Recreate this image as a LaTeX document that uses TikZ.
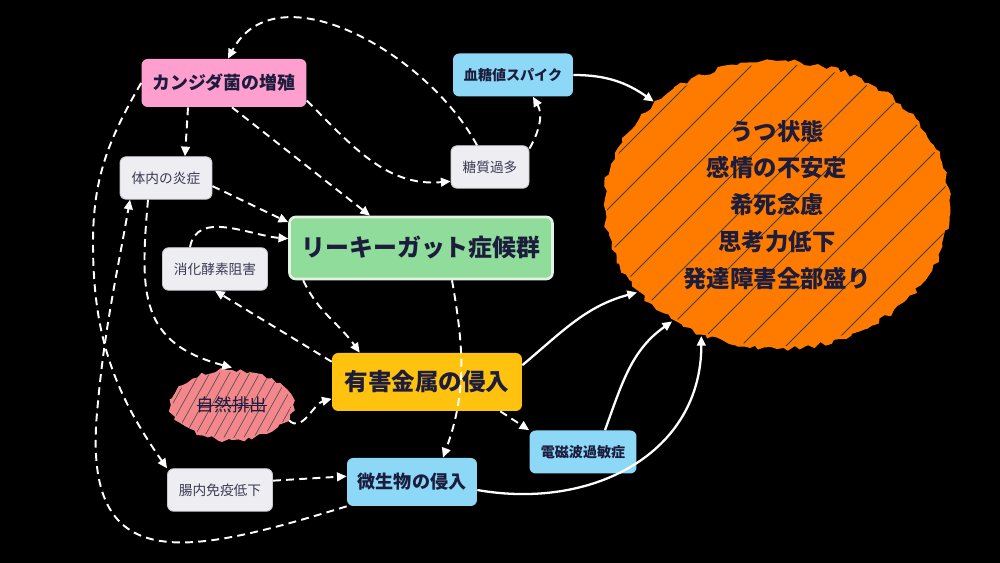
\documentclass[tikz,border=0pt]{standalone}
\usepackage{fontspec}
\setmainfont{Noto Sans CJK JP}
\usetikzlibrary{arrows.meta,shapes.geometric,decorations.pathmorphing}
\definecolor{ink}{HTML}{1C1C3C}
\definecolor{inkgray}{HTML}{3A3A55}
\definecolor{candpink}{HTML}{FF9FD0}
\definecolor{boxgray}{HTML}{EEEEF2}
\definecolor{boxedge}{HTML}{C8C8D0}
\definecolor{boxblue}{HTML}{8CD8F6}
\definecolor{leakgreen}{HTML}{8FDC9B}
\definecolor{leakedge}{HTML}{E4F2E4}
\definecolor{metalyel}{HTML}{FFC20E}
\definecolor{bloborange}{HTML}{FF7B00}
\definecolor{excpink}{HTML}{F4878C}

\begin{document}
\begin{tikzpicture}[x=0.02cm,y=0.02cm,
  >={Triangle[length=5.5pt,width=5pt]},
  box/.style={rectangle,rounded corners=3.5pt,inner sep=0pt,text=ink},
  gbox/.style={box,fill=boxgray,draw=boxedge,line width=0.5pt,text=inkgray,minimum height=0.85cm,font=\fontsize{7.8}{9}\selectfont},
  bbox/.style={box,fill=boxblue,font=\fontsize{8}{9}\selectfont\bfseries},
  dlink/.style={->,white,line width=1.1pt,dash pattern=on 4.5pt off 3pt},
  slink/.style={->,white,line width=1.3pt},
  rough/.style={decorate,decoration={random steps,segment length=3pt,amplitude=1.4pt}}]

\path[use as bounding box,fill=black] (0,0) rectangle (1000,563);

% scribbled blobs
\pgfmathsetseed{7}
\fill[bloborange,rough] (777,358) ellipse [x radius=173,y radius=144];
\begin{scope}
\clip (777,358) ellipse [x radius=170,y radius=141];
\foreach \d in {-300,-255,...,300}
  \draw[black!75,line width=0.5pt] ({777+\d-180},178) -- ++(360,360);
\end{scope}
\fill[excpink,rough] (232,158) ellipse [x radius=61,y radius=35];
\begin{scope}
\clip (232,158) ellipse [x radius=59,y radius=33];
\foreach \d in {-80,-70,...,80}
  \draw[black!70,line width=0.35pt] ({232+\d-25},113) -- ++(50,90);
\end{scope}

% boxes
\node[box,fill=candpink,minimum width=3.3cm,minimum height=0.96cm,font=\fontsize{10.2}{12}\selectfont\bfseries] (cand) at (224,480) {カンジダ菌の増殖};
\node[gbox,minimum width=1.84cm] (inflam) at (166,385) {体内の炎症};
\node[gbox,minimum width=1.56cm] (sugar) at (490,396) {糖質過多};
\node[bbox,minimum width=2.4cm,minimum height=0.86cm] (spike) at (513,488) {血糖値スパイク};
\node[box,fill=leakgreen,draw=leakedge,line width=1.5pt,minimum width=5.26cm,minimum height=1.24cm,font=\fontsize{13.6}{16}\selectfont\bfseries] (leaky) at (421,315) {リーキーガット症候群};
\node[gbox,minimum width=2.1cm] (enzyme) at (215,294) {消化酵素阻害};
\node[box,fill=metalyel,minimum width=3.8cm,minimum height=1.16cm,font=\fontsize{13.4}{16}\selectfont\bfseries] (metal) at (427,181) {有害金属の侵入};
\node[ellipse,minimum width=2.48cm,minimum height=1.48cm,inner sep=0pt] (excr) at (232,158) {};
\node[text=ink,inner sep=0pt,font=\fontsize{10}{12}\selectfont] (excrt) at (excr.center) {自然排出};
\draw[ink,line width=0.5pt] (excrt.west) -- (excrt.east);
\node[bbox,minimum width=2.14cm,minimum height=0.86cm] (emag) at (583,111) {電磁波過敏症};
\node[bbox,minimum width=2.6cm,minimum height=0.96cm,font=\fontsize{10.3}{12}\selectfont\bfseries] (microbe) at (412,81) {微生物の侵入};
\node[gbox,minimum width=2.1cm] (immune) at (220,73) {腸内免疫低下};
\node[ellipse,minimum width=7cm,minimum height=5.8cm,inner sep=0pt,align=center,text=ink,font=\fontsize{13.3}{21}\selectfont\bfseries] (blob) at (777,358) {うつ状態\\感情の不安定\\希死念慮\\思考力低下\\発達障害全部盛り};

% dashed causes
\draw[dlink] (sugar.25) to[out=60,in=-60] ([xshift=0.4cm]spike.south);
\draw[dlink] ([xshift=-0.26cm]sugar.north) to[out=118,in=62,looseness=1] ([xshift=0.08cm]cand.north);
\draw[dlink] (cand.-12) to[out=-45,in=185] (sugar.200);
\draw[dlink] ([xshift=0.16cm]cand.south) -- ([xshift=-1.02cm]leaky.north);
\draw[dlink] ([xshift=-0.72cm]cand.south) -- ([xshift=0.38cm]inflam.north);
\draw[dlink] (cand.west) to[out=240,in=90] (93,320) to[out=-90,in=125] (immune.north west);
\draw[dlink] (microbe.south west) to[out=197,in=-95,looseness=1.6] (97,150) to[out=85,in=-100] ([xshift=-0.72cm]inflam.south);
\draw[dlink] ([xshift=-0.36cm]inflam.south) to[out=-95,in=165,looseness=1.3] (excr.north);
\draw[dlink] (inflam.-10) to[out=-25,in=155] (leaky.169);
\draw[dlink] ([xshift=-0.5cm]enzyme.north) to[out=80,in=175] (leaky.176);
\draw[dlink] (metal.168) -- (enzyme.south);
\draw[dlink] ([xshift=0.3cm]leaky.south west) to[out=-65,in=125] ([xshift=0.56cm]metal.north west);
\draw[dlink] ([xshift=0.62cm]leaky.south) to[out=-80,in=70] ([xshift=0.62cm]microbe.north);
\draw[dlink] (excr.-15) to[out=-45,in=195] (metal.190);
\draw[dlink] ([xshift=-0.44cm]metal.south east) -- (emag.north west);
\draw[dlink] (immune.10) -- (microbe.175);

% solid effects
\draw[slink] (spike.east) to[out=0,in=145] (blob.140);
\draw[slink] (metal.10) to[out=40,in=195] (blob.212);
\draw[slink] ([xshift=0.44cm]emag.north) to[out=70,in=215] (blob.228);
\draw[slink] (microbe.-7) to[out=-10,in=-90,looseness=1.1] (blob.240);
\end{tikzpicture}
\end{document}
